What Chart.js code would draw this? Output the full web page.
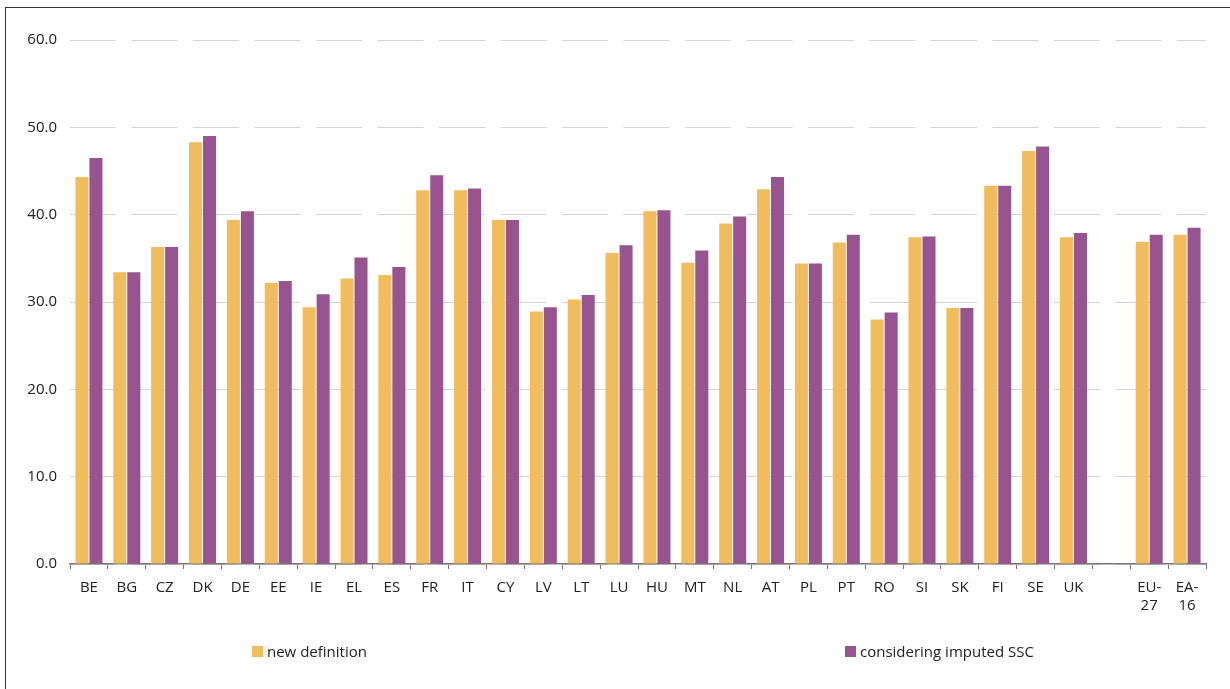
<!DOCTYPE html>
<html>
<head>
<meta charset="utf-8">
<script src="https://cdn.jsdelivr.net/npm/chart.js@4/dist/chart.umd.min.js"></script>
<style>
  html, body { margin: 0; padding: 0; background: #fff; }
  body { width: 1230px; height: 689px; position: relative; overflow: hidden; font-family: "Open Sans", sans-serif; }
  #frame { position: absolute; left: 5px; top: 7px; width: 1300px; height: 800px; border-left: 1.5px solid #333; border-top: 1.5px solid #333; }
  #c { position: absolute; left: 0; top: 0; }
  .leg { position: absolute; top: 641px; font-size: 15px; color: #222; display: flex; align-items: center; white-space: nowrap; }
  .leg span.box { display: inline-block; width: 11px; height: 11px; margin-right: 4px; }
</style>
</head>
<body>
<div id="frame"></div>
<canvas id="c" width="1230" height="689"></canvas>
<div id="legend"></div>
<script>
const categories = ['BE','BG','CZ','DK','DE','EE','IE','EL','ES','FR','IT','CY','LV','LT','LU','HU','MT','NL','AT','PL','PT','RO','SI','SK','FI','SE','UK','',['EU-','27'],['EA-','16']];
const newDefinition = [44.3,33.4,36.3,48.3,39.4,32.2,29.4,32.7,33.1,42.8,42.8,39.4,28.9,30.3,35.6,40.4,34.5,39.0,42.9,34.4,36.8,28.0,37.4,29.3,43.3,47.3,37.4,null,36.9,37.7];
const imputedSSC = [46.5,33.4,36.3,49.0,40.4,32.4,30.9,35.1,34.0,44.5,43.0,39.4,29.4,30.8,36.5,40.5,35.9,39.8,44.3,34.4,37.7,28.8,37.5,29.3,43.3,47.8,37.9,null,37.7,38.5];
const seriesLabels = ['new definition','considering imputed SSC'];
const seriesColors = ['#F1BC5C','#985490'];
const yTicks = [0,10,20,30,40,50,60];

const ctx = document.getElementById('c');
new Chart(ctx, {
  type: 'bar',
  data: {
    labels: categories,
    datasets: [
      { label: seriesLabels[0], data: newDefinition, backgroundColor: seriesColors[0], borderWidth: 0 },
      { label: seriesLabels[1], data: imputedSSC, backgroundColor: seriesColors[1], borderWidth: 0 }
    ]
  },
  options: {
    responsive: false,
    animation: false,
    events: [],
    layout: { padding: { left: 0, right: 24, top: 40, bottom: 65 } },
    datasets: { bar: { categoryPercentage: 0.74, barPercentage: 0.93 } },
    plugins: { legend: { display: false }, tooltip: { enabled: false } },
    scales: {
      x: {
        offset: true,
        grid: { offset: true, drawOnChartArea: false, drawTicks: true, tickLength: 5, color: '#777', lineWidth: 1 },
        border: { display: true, color: '#777', width: 1.5 },
        ticks: { color: '#222', font: { family: 'Open Sans', size: 15 }, padding: 10, autoSkip: false, maxRotation: 0 },
        afterFit: (s) => { s.height = 60; }
      },
      y: {
        min: 0, max: 60,
        afterBuildTicks: (s) => { s.ticks = yTicks.map(v => ({ value: v })); },
        grid: { drawTicks: false, color: '#d4d4d4', lineWidth: 1 },
        border: { display: false, dash: [46, 15.5] },
        ticks: { color: '#222', font: { family: 'Open Sans', size: 15 }, padding: 13, callback: (v) => Number(v).toFixed(1) },
        afterFit: (s) => { s.width = 70; }
      }
    }
  }
});

const legendPos = [252, 845];
const legend = document.getElementById('legend');
seriesLabels.forEach((lab, i) => {
  const d = document.createElement('div');
  d.className = 'leg';
  d.style.left = legendPos[i] + 'px';
  const b = document.createElement('span');
  b.className = 'box';
  b.style.background = seriesColors[i];
  d.appendChild(b);
  d.appendChild(document.createTextNode(lab));
  legend.appendChild(d);
});
</script>
</body>
</html>
